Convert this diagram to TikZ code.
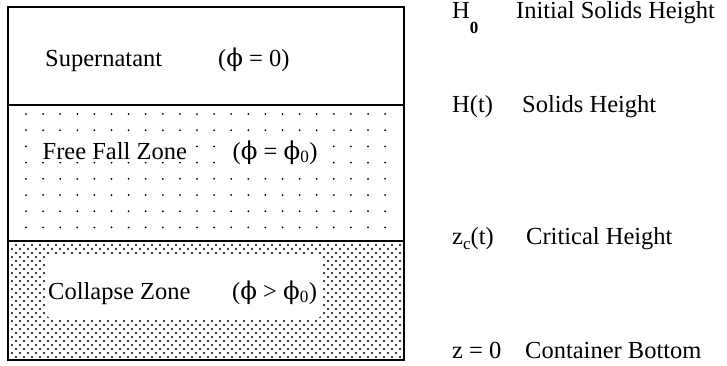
\documentclass[tikz,border=0pt]{standalone}
\usepackage{fontspec}
\setmainfont{Liberation Serif}
\newfontfamily\phifont{DejaVu Serif}
\usetikzlibrary{patterns}

\newcommand{\phis}{{\phifont ϕ}}

% close checkered dots for the collapse zone
\pgfdeclarepatternformonly{densedots}{\pgfpoint{-1.2pt}{-1.2pt}}{\pgfpoint{6.8pt}{6.8pt}}{\pgfpoint{8pt}{8pt}}{%
  \pgfpathcircle{\pgfpoint{0pt}{0pt}}{1.1pt}%
  \pgfpathcircle{\pgfpoint{4pt}{4pt}}{1.1pt}%
  \pgfusepath{fill}}

\tikzset{
  lbl/.style={font=\fontsize{24.5}{28}\selectfont, inner sep=0pt, anchor=base west},
  mask/.style={lbl, fill=white, inner sep=2.5pt},
  subs/.style={}
}
\newcommand{\lowsub}[2]{\raisebox{#1}{\fontsize{17}{17}\selectfont\bfseries #2}}

\begin{document}
\begin{tikzpicture}[x=1pt, y=-1pt]
    \useasboundingbox (0,0) rectangle (727,365);

    % Collapse zone shading
    \fill[pattern=densedots] (8,241) rectangle (404,360);

    % Free fall zone dots
    \foreach \r in {0,...,7}
        \foreach \c in {0,...,21}
            \fill (26+17.1*\c, 114+16.2*\r) circle (1);

    % Container and zone boundaries
    \draw[line width=1.6] (8,7) rectangle (404,360);
    \draw[line width=1.6] (8,105) -- (404,105);
    \draw[line width=1.6] (8,241) -- (404,241);

    % Zone labels
    \node[lbl] (super) at (45,66) {Supernatant};
    \node[lbl] (superphi) at (218,66) {(\phis{} = 0)};

    \node[mask] (free) at (40,159) {Free Fall Zone};
    \node[mask] (freephi) at (230,159) {(\phis{} = \phis\textsubscript{0})};

    \node[fill=white, rounded corners=5, minimum width=276, minimum height=62, inner sep=0pt] (cmask) at (184,287) {};
    \node[lbl] (coll) at (48,299) {Collapse Zone};
    \node[lbl] (collphi) at (232,299) {(\phis{} > \phis\textsubscript{0})};

    % Height legend
    \node[lbl] (h0) at (452,18) {H\lowsub{-15pt}{0}};
    \node[lbl] (h0txt) at (516,18) {Initial Solids Height};

    \node[lbl] (ht) at (452,112) {H(t)};
    \node[lbl] (httxt) at (522,112) {Solids Height};

    \node[lbl] (zc) at (452,244) {z\lowsub{-5pt}{\mdseries c}(t)};
    \node[lbl] (zctxt) at (526,244) {Critical Height};

    \node[lbl] (z0) at (452,358) {z = 0};
    \node[lbl] (z0txt) at (525,358) {Container Bottom};
\end{tikzpicture}
\end{document}
